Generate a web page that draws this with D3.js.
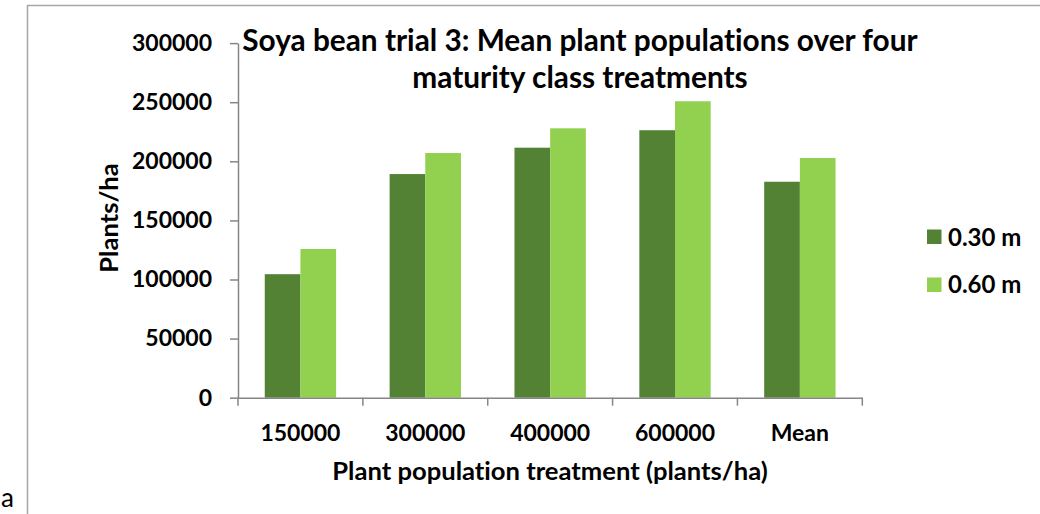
<!DOCTYPE html>
<html><head><meta charset="utf-8">
<script src="https://cdn.jsdelivr.net/npm/d3@7"></script>
<style>body{margin:0;background:#fff}svg{display:block}text{font-family:Lato,"Open Sans",sans-serif;font-weight:bold;fill:#000;font-variant-ligatures:none}</style>
</head><body>
<svg id="c" width="1040" height="514"></svg>
<script>
const categories = ["150000","300000","400000","600000","Mean"];
const seriesNames = ["0.30 m","0.60 m"];
const spacing030 = [104500,189200,211500,226300,182700];
const spacing060 = [125800,207000,227900,250800,202800];
const yTicks = [0,50000,100000,150000,200000,250000,300000];
const colors = ["#548235","#92d050"];
const titleLines = ["Soya bean trial 3: Mean plant populations over four","maturity class treatments"];

const svg = d3.select("#c");
// outer frame
svg.append("path").attr("d","M27.5,514 V5.5 H1040").attr("fill","none").attr("stroke","#a6a6a6").attr("stroke-width",1.5);
svg.append("text").attr("x",1).attr("y",507).style("font-weight","normal").style("font-size","26px").text("a");

const m = {l:238, r:862.3, t:43.1, b:397.7};
const x = d3.scaleBand().domain(categories).range([m.l,m.r]).paddingInner(0).paddingOuter(0);
const y = d3.scaleLinear().domain([0,300000]).range([m.b,m.t]);
const bw = x.bandwidth()/3.5;
const series = [spacing030, spacing060];

const g = svg.append("g");
series.forEach((vals,si)=>{
  g.selectAll(null).data(vals).enter().append("rect")
    .attr("x",(d,i)=>x(categories[i]) + x.bandwidth()/2 - bw + si*bw)
    .attr("y",d=>y(d)).attr("width",bw).attr("height",d=>y(0)-y(d))
    .attr("fill",colors[si]);
});

// y axis
const ya = svg.append("g").attr("transform",`translate(${m.l},0)`)
  .call(d3.axisLeft(y).tickValues(yTicks).tickFormat(d3.format("d")).tickSize(8).tickSizeOuter(0).tickPadding(18));
ya.select(".domain").attr("stroke","#868686").attr("stroke-width",1.5);
ya.selectAll(".tick line").attr("stroke","#868686").attr("stroke-width",1.5);
ya.selectAll(".tick text").style("font-size","23px").style("font-family","Lato").attr("fill","#000");

// x axis
const xa = svg.append("g").attr("transform",`translate(0,${m.b})`)
  .call(d3.axisBottom(x).tickSize(0).tickPadding(27));
xa.select(".domain").attr("stroke","#868686").attr("stroke-width",1.5);
xa.selectAll(".tick text").style("font-size","23px").style("font-family","Lato").attr("fill","#000");
// category boundary ticks
const bounds = categories.map(c=>x(c)).concat([m.r]);
xa.selectAll(".bt").data(bounds).enter().append("line").attr("class","bt")
  .attr("x1",d=>d).attr("x2",d=>d).attr("y1",0).attr("y2",8).attr("stroke","#868686").attr("stroke-width",1.5);

// titles
const t = svg.append("text").attr("text-anchor","middle").style("font-size","29.8px");
titleLines.forEach((l,i)=>t.append("tspan").attr("x",580).attr("y",51+i*37).text(l));
svg.append("text").attr("x",550).attr("y",480).attr("text-anchor","middle").style("font-size","25.6px").text("Plant population treatment (plants/ha)");
svg.append("text").attr("transform","translate(118,218) rotate(-90)").attr("text-anchor","middle").style("font-size","25.6px").text("Plants/ha");

// legend
const lg = svg.append("g");
seriesNames.forEach((n,i)=>{
  lg.append("rect").attr("x",927).attr("y",229.5+i*48).attr("width",14.5).attr("height",14.5).attr("fill",colors[i]);
  lg.append("text").attr("x",948).attr("y",245.5+i*47.5).style("font-size","24px").text(n);
});
</script>
</body></html>
